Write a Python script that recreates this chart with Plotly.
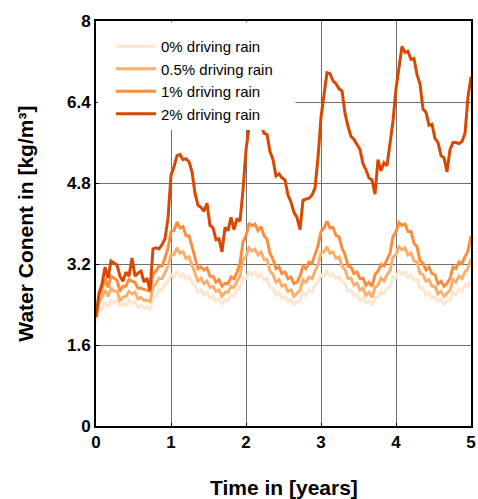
import plotly.graph_objects as go

years = [round(i * 0.04, 2) for i in range(126)]

rain_2 = [
    2.15, 2.62, 2.80, 3.14, 2.92,
    3.26, 3.22, 3.18, 2.96, 2.86,
    3.04, 2.96, 3.32, 2.96, 3.02,
    3.06, 2.84, 2.92, 2.68, 3.50,
    3.52, 3.50, 3.58, 3.70, 4.10,
    4.95, 5.12, 5.34, 5.36, 5.26,
    5.28, 5.22, 5.02, 4.60, 4.36,
    4.32, 4.24, 4.40, 3.96, 3.92,
    3.68, 3.70, 3.44, 3.92, 3.86,
    4.12, 3.88, 4.10, 4.04, 4.66,
    5.45, 5.90, 6.20, 6.10, 5.95,
    5.96, 5.78, 5.76, 5.42, 5.26,
    4.94, 4.98, 4.90, 4.86, 4.56,
    4.42, 4.22, 4.12, 3.88, 4.46,
    4.48, 4.50, 4.56, 4.70, 5.30,
    6.10, 6.54, 6.98, 6.96, 6.82,
    6.76, 6.66, 6.62, 6.18, 5.92,
    5.72, 5.66, 5.56, 5.46, 5.18,
    5.06, 4.90, 4.86, 4.58, 5.26,
    5.04, 5.20, 5.14, 5.60, 6.02,
    6.66, 7.06, 7.50, 7.38, 7.40,
    7.24, 7.26, 6.94, 6.76, 6.26,
    6.20, 5.94, 5.96, 5.68, 5.60,
    5.34, 5.30, 5.02, 5.46, 5.60,
    5.60, 5.58, 5.62, 5.78, 6.50,
    6.90,
]

rain_1 = [
    2.20, 2.56, 2.70, 2.92, 2.74,
    2.96, 2.92, 2.88, 2.66, 2.76,
    2.76, 2.90, 2.86, 2.84, 2.72,
    2.72, 2.70, 2.68, 2.66, 3.00,
    3.06, 3.16, 3.16, 3.32, 3.51,
    3.84, 3.86, 4.03, 3.91, 3.94,
    3.76, 3.76, 3.56, 3.34, 3.11,
    3.14, 3.08, 3.12, 2.96, 2.96,
    2.84, 2.89, 2.76, 2.82, 2.81,
    2.94, 2.91, 3.04, 3.21, 3.64,
    3.76, 3.99, 3.96, 3.99, 3.86,
    3.94, 3.76, 3.69, 3.41, 3.29,
    3.11, 3.14, 3.01, 3.04, 2.91,
    2.94, 2.81, 2.84, 2.96, 3.16,
    3.11, 3.24, 3.21, 3.39, 3.56,
    3.84, 3.91, 4.04, 3.91, 3.92,
    3.76, 3.74, 3.51, 3.39, 3.16,
    3.14, 3.01, 3.04, 2.91, 2.92,
    2.78, 2.84, 2.76, 2.99, 3.06,
    3.19, 3.16, 3.29, 3.41, 3.74,
    3.84, 4.02, 3.96, 3.99, 3.84,
    3.84, 3.61, 3.54, 3.26, 3.22,
    3.08, 3.14, 3.01, 2.99, 2.81,
    2.86, 2.76, 2.82, 2.91, 3.14,
    3.11, 3.24, 3.21, 3.34, 3.46,
    3.75,
]

rain_05 = [
    2.15, 2.44, 2.54, 2.69, 2.56,
    2.72, 2.66, 2.66, 2.48, 2.54,
    2.56, 2.66, 2.61, 2.64, 2.51,
    2.54, 2.48, 2.49, 2.46, 2.74,
    2.81, 2.92, 2.91, 3.04, 3.16,
    3.39, 3.38, 3.52, 3.41, 3.44,
    3.31, 3.34, 3.18, 3.04, 2.86,
    2.92, 2.81, 2.86, 2.74, 2.76,
    2.66, 2.69, 2.56, 2.64, 2.64,
    2.76, 2.74, 2.86, 2.96, 3.29,
    3.34, 3.52, 3.46, 3.49, 3.38,
    3.44, 3.29, 3.29, 3.06, 2.99,
    2.84, 2.89, 2.76, 2.79, 2.66,
    2.69, 2.56, 2.62, 2.68, 2.89,
    2.84, 2.94, 2.91, 3.06, 3.18,
    3.42, 3.44, 3.54, 3.41, 3.44,
    3.31, 3.34, 3.16, 3.09, 2.91,
    2.92, 2.78, 2.82, 2.68, 2.72,
    2.58, 2.64, 2.54, 2.74, 2.78,
    2.92, 2.86, 2.99, 3.06, 3.34,
    3.38, 3.54, 3.48, 3.52, 3.38,
    3.42, 3.26, 3.24, 3.01, 2.99,
    2.86, 2.89, 2.76, 2.76, 2.61,
    2.66, 2.56, 2.62, 2.68, 2.89,
    2.84, 2.96, 2.91, 3.04, 3.11,
    3.30,
]

rain_0 = [
    2.05, 2.29, 2.31, 2.44, 2.34,
    2.49, 2.44, 2.49, 2.36, 2.42,
    2.38, 2.49, 2.41, 2.46, 2.34,
    2.39, 2.32, 2.36, 2.31, 2.54,
    2.56, 2.69, 2.68, 2.82, 2.84,
    2.99, 2.94, 3.06, 2.96, 3.01,
    2.91, 2.96, 2.84, 2.79, 2.64,
    2.69, 2.58, 2.64, 2.52, 2.56,
    2.46, 2.52, 2.41, 2.49, 2.48,
    2.60, 2.56, 2.69, 2.71, 2.92,
    2.91, 3.04, 2.98, 3.04, 2.94,
    2.99, 2.88, 2.92, 2.74, 2.72,
    2.58, 2.64, 2.52, 2.56, 2.46,
    2.51, 2.40, 2.46, 2.48, 2.64,
    2.58, 2.69, 2.64, 2.79, 2.84,
    2.99, 2.96, 3.06, 2.96, 3.01,
    2.91, 2.96, 2.84, 2.82, 2.66,
    2.68, 2.56, 2.60, 2.48, 2.54,
    2.43, 2.48, 2.38, 2.54, 2.54,
    2.66, 2.61, 2.72, 2.74, 2.94,
    2.93, 3.06, 2.99, 3.04, 2.93,
    2.99, 2.88, 2.90, 2.72, 2.72,
    2.58, 2.64, 2.52, 2.56, 2.46,
    2.51, 2.41, 2.47, 2.48, 2.64,
    2.59, 2.70, 2.66, 2.79, 2.76,
    2.85,
]

series_names = ["0% driving rain", "0.5% driving rain", "1% driving rain", "2% driving rain"]
series_values = [rain_0, rain_05, rain_1, rain_2]
series_colors = ["#fee6ce", "#fdae6b", "#fd8d3c", "#d94801"]

y_ticks = [0, 1.6, 3.2, 4.8, 6.4, 8]
x_ticks = [0, 1, 2, 3, 4, 5]

FONT = "Liberation Sans, Arial, sans-serif"

fig = go.Figure()
for name, vals, col in zip(series_names, series_values, series_colors):
    fig.add_trace(go.Scatter(x=years, y=vals, mode="lines", name=name,
                             line=dict(color=col, width=3)))

fig.update_layout(
    width=478, height=499,
    margin=dict(l=96, r=2, t=21, b=73),
    plot_bgcolor="white", paper_bgcolor="white",
    font=dict(family=FONT, color="black"),
    showlegend=True,
    legend=dict(x=0.04, y=0.978, xanchor="left", yanchor="top",
                bgcolor="white", borderwidth=0,
                font=dict(family=FONT, size=15, color="black"),
                itemwidth=40, tracegroupgap=0),
    xaxis=dict(range=[0, 5], tickvals=x_ticks, ticktext=[str(v) for v in x_ticks],
               showgrid=True, gridcolor="#707070", gridwidth=1,
               showline=True, linecolor="black", linewidth=2, mirror=True,
               ticks="inside", ticklen=3, tickcolor="black", zeroline=False,
               ticklabeloverflow="allow",
               tickfont=dict(family=FONT, size=17, weight="bold", color="black")),
    yaxis=dict(range=[0, 8], tickvals=y_ticks, ticktext=[str(v) for v in y_ticks],
               showgrid=True, gridcolor="#707070", gridwidth=1,
               showline=True, linecolor="black", linewidth=2, mirror=True,
               ticks="inside", ticklen=3, tickcolor="black", zeroline=False,
               tickfont=dict(family=FONT, size=17, weight="bold", color="black")),
    shapes=[dict(type="rect", xref="paper", yref="paper",
                 x0=0.004, x1=0.5316, y0=0.7383, y1=0.9963,
                 fillcolor="white", line=dict(width=0), layer="above")],
    annotations=[
        dict(text="<b>Water Conent in [kg/m³]</b>", xref="paper", yref="paper",
             x=-0.189, y=0.5, xanchor="center", yanchor="middle", textangle=-90,
             showarrow=False, font=dict(family=FONT, size=21, color="black")),
        dict(text="<b>Time in [years]</b>", xref="paper", yref="paper",
             x=0.5, y=-0.153, xanchor="center", yanchor="middle",
             showarrow=False, font=dict(family=FONT, size=21, color="black")),
    ],
)

fig.write_html("out.html")
